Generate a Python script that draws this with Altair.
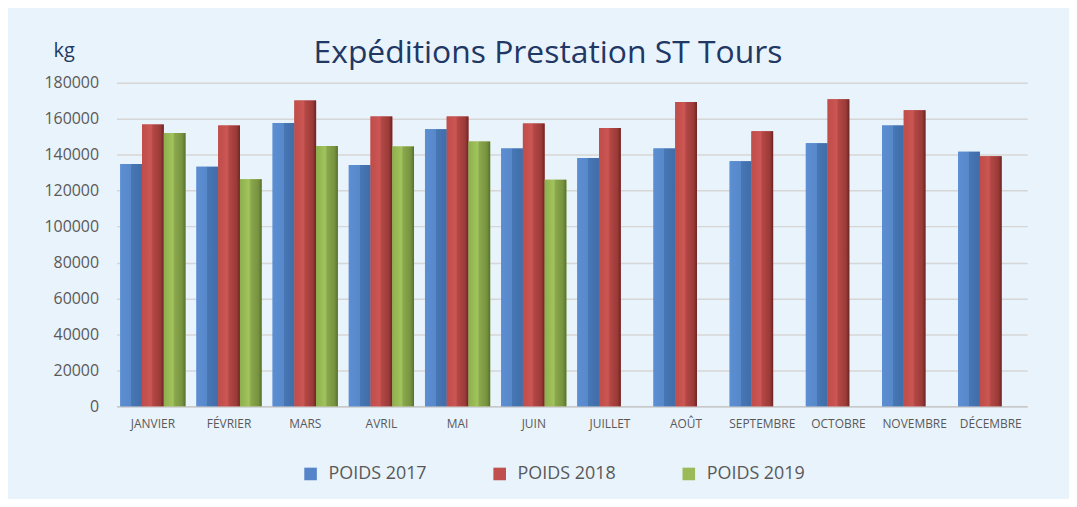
import altair as alt
import pandas as pd

months = ["JANVIER", "FÉVRIER", "MARS", "AVRIL", "MAI", "JUIN",
          "JUILLET", "AOÛT", "SEPTEMBRE", "OCTOBRE", "NOVEMBRE", "DÉCEMBRE"]
series = ["POIDS 2017", "POIDS 2018", "POIDS 2019"]
poids_2017 = [134800, 133300, 157700, 134300, 154200, 143500,
              138100, 143500, 136300, 146300, 156200, 141600]
poids_2018 = [156800, 156200, 170200, 161200, 161200, 157300,
              154900, 169300, 153100, 170900, 164700, 139100]
poids_2019 = [152000, 126300, 144900, 144600, 147400, 126000]
y_ticks = [0, 20000, 40000, 60000, 80000, 100000, 120000, 140000, 160000, 180000]

rows = []
for name, vals in zip(series, [poids_2017, poids_2018, poids_2019]):
    for m, v in zip(months, vals):
        rows.append({"mois": m, "serie": name, "valeur": v})
df = pd.DataFrame(rows)

solid = ["#5585C8", "#C0504D", "#9BBB59"]

def grad(stops):
    return alt.LinearGradient(
        gradient="linear", x1=0, x2=1, y1=0, y2=0,
        stops=[alt.GradientStop(offset=o, color=c) for o, c in stops])

grads = {
    "POIDS 2017": grad([(0, "#5B8ED3"), (0.5, "#5788C9"), (0.5, "#4777B5"), (1, "#416DA8")]),
    "POIDS 2018": grad([(0, "#BF4D4A"), (0.42, "#CC5653"), (0.5, "#B34845"),
                        (0.85, "#9A3A38"), (1, "#6A2523")]),
    "POIDS 2019": grad([(0, "#8DAF4E"), (0.42, "#A2C45D"), (0.5, "#8BA84C"),
                        (0.85, "#76923F"), (1, "#55702B")]),
}

x_enc = alt.X("mois:N", sort=months,
              scale=alt.Scale(paddingInner=0.144, paddingOuter=0.05),
              axis=alt.Axis(title=None, labelAngle=0, ticks=False,
                            domainColor="#C8C8C8", domainWidth=1.5,
                            labelPadding=12, labelFontSize=12,
                            labelColor="#595959", labelFont="Open Sans"))
xo_enc = alt.XOffset("serie:N", scale=alt.Scale(domain=series, paddingInner=0, paddingOuter=0))
y_enc = alt.Y("valeur:Q", scale=alt.Scale(domain=[0, 180000], nice=False),
              axis=alt.Axis(values=y_ticks, format="d", title="kg",
                            titleAngle=0, titleX=-53, titleY=-26,
                            titleAlign="center", titleBaseline="alphabetic",
                            titleFontSize=20, titleFont="Open Sans",
                            titleFontWeight="normal", titleColor="#1F3864",
                            labelFontSize=16, labelFont="Open Sans",
                            labelColor="#595959", labelPadding=18,
                            ticks=False, domain=False,
                            gridColor="#D6D6D6", gridWidth=1.5))

base = alt.Chart(df).mark_bar().encode(
    x=x_enc, xOffset=xo_enc, y=y_enc,
    color=alt.Color("serie:N", scale=alt.Scale(domain=series, range=solid),
                    legend=alt.Legend(title=None, orient="none", direction="horizontal",
                                      legendX=186, legendY=384,
                                      symbolType="square", symbolSize=160,
                                      symbolStrokeWidth=0, symbolOpacity=1,
                                      labelFontSize=18, labelFont="Open Sans",
                                      labelColor="#595959", labelOffset=9,
                                      columnPadding=64)))

layers = [base]
for s in series:
    layers.append(
        alt.Chart(df).transform_filter(alt.datum.serie == s)
        .mark_bar(fill=grads[s])
        .encode(x=x_enc, xOffset=xo_enc, y=y_enc)
    )

chart = alt.layer(*layers).properties(
    width=915, height=325,
    autosize=alt.AutoSizeParams(type="none"),
    padding={"left": 109, "top": 74, "right": 42, "bottom": 92},
    background="#E9F3FC",
    title=alt.TitleParams(text="Expéditions Prestation ST Tours", fontSize=32,
                          font="Open Sans", fontWeight="normal", color="#1F3864",
                          anchor="middle", dx=-24, offset=-61, baseline="bottom"),
).configure_view(stroke=None)

chart.save("out.html", embed_options={"renderer": "svg", "actions": False})
